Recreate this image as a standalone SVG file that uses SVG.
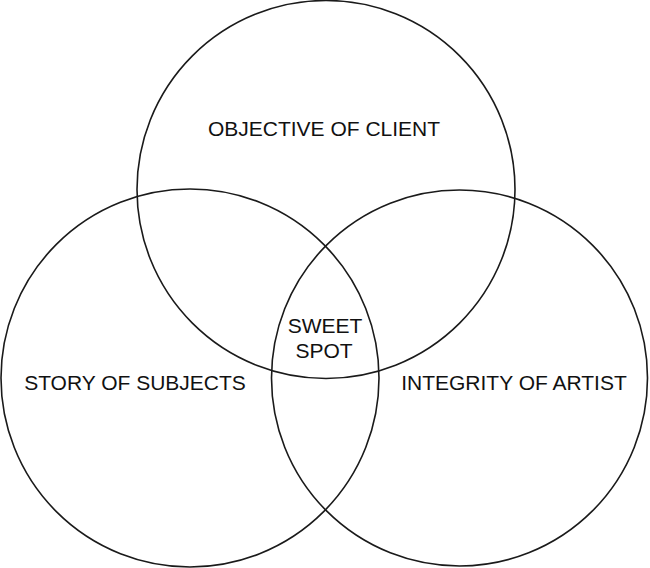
<svg xmlns="http://www.w3.org/2000/svg" width="650" height="568" viewBox="0 0 650 568">
<style>
.c{fill:none;stroke:#1a1a1a;stroke-width:1.6}
.t{font-family:"Liberation Sans",Arial,sans-serif;font-size:21px;fill:#111;text-anchor:middle}
</style>
<rect width="650" height="568" fill="#fff"/>
<g id="client"><circle class="c" cx="326" cy="189.5" r="189"/><text class="t" x="324" y="136">OBJECTIVE OF CLIENT</text></g>
<g id="subjects"><circle class="c" cx="190" cy="378" r="189"/><text class="t" x="135" y="390">STORY OF SUBJECTS</text></g>
<g id="artist"><circle class="c" cx="459.5" cy="378" r="188"/><text class="t" x="514" y="390">INTEGRITY OF ARTIST</text></g>
<g id="sweet"><text class="t" x="325" y="333">SWEET</text><text class="t" x="324" y="358">SPOT</text></g>
<g id="connectors"></g>
</svg>
